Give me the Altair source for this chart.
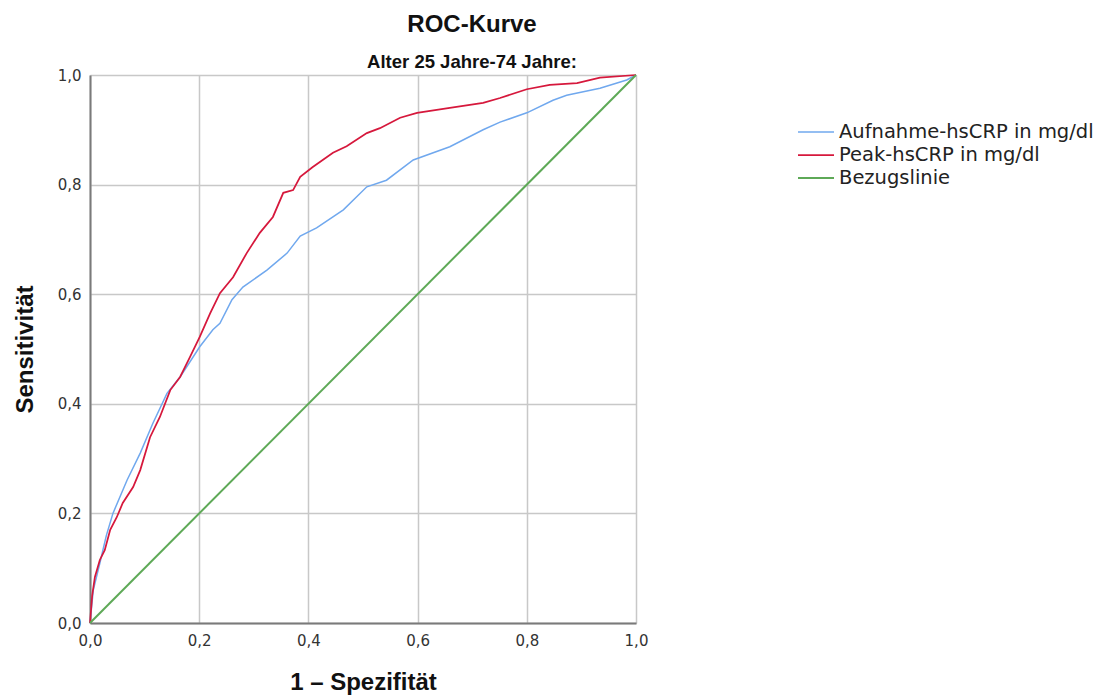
import altair as alt
import pandas as pd

series = ["Aufnahme-hsCRP in mg/dl", "Peak-hsCRP in mg/dl", "Bezugslinie"]
colors = ["#70a8ee", "#d6183c", "#5ea957"]
widths = [1.5, 2.0, 1.6]

fpr_aufnahme = [0.0, 0.006, 0.018, 0.030, 0.042, 0.068, 0.092, 0.115, 0.141, 0.165,
                0.201, 0.225, 0.238, 0.260, 0.280, 0.324, 0.361, 0.385, 0.415, 0.464,
                0.507, 0.543, 0.592, 0.659, 0.720, 0.751, 0.800, 0.848, 0.873, 0.934,
                0.983, 1.0]
tpr_aufnahme = [0.0, 0.060, 0.109, 0.160, 0.200, 0.261, 0.310, 0.364, 0.419, 0.449,
                0.504, 0.535, 0.547, 0.590, 0.613, 0.644, 0.675, 0.706, 0.721, 0.754,
                0.796, 0.808, 0.845, 0.869, 0.900, 0.914, 0.931, 0.954, 0.963, 0.976,
                0.991, 1.0]

fpr_peak = [0.0, 0.004, 0.009, 0.018, 0.027, 0.037, 0.049, 0.060, 0.079, 0.092,
            0.110, 0.128, 0.147, 0.165, 0.183, 0.201, 0.220, 0.238, 0.262, 0.287,
            0.311, 0.335, 0.354, 0.372, 0.385, 0.408, 0.445, 0.470, 0.507, 0.531,
            0.568, 0.599, 0.659, 0.720, 0.751, 0.800, 0.842, 0.892, 0.934, 1.0]
tpr_peak = [0.0, 0.050, 0.084, 0.115, 0.133, 0.170, 0.193, 0.219, 0.248, 0.279,
            0.339, 0.376, 0.425, 0.449, 0.485, 0.522, 0.565, 0.602, 0.631, 0.675,
            0.712, 0.741, 0.785, 0.790, 0.814, 0.832, 0.858, 0.870, 0.894, 0.903,
            0.922, 0.931, 0.940, 0.949, 0.958, 0.974, 0.982, 0.985, 0.995, 1.0]

fpr_ref = [0.0, 1.0]
tpr_ref = [0.0, 1.0]

tick_values = [0.0, 0.2, 0.4, 0.6, 0.8, 1.0]

rows = []
for name, xs, ys in zip(series, [fpr_aufnahme, fpr_peak, fpr_ref], [tpr_aufnahme, tpr_peak, tpr_ref]):
    for i, (xv, yv) in enumerate(zip(xs, ys)):
        rows.append({"serie": name, "fpr": xv, "tpr": yv, "ord": i})
df = pd.DataFrame(rows)

label_expr = "replace(format(datum.value, '.1f'), '.', ',')"

axis_common = dict(
    values=tick_values,
    labelExpr=label_expr,
    labelFont="DejaVu Sans",
    labelFontSize=15,
    labelColor="#333333",
    labelFlush=False,
    ticks=False,
    grid=True,
    gridColor="#c8c8c8",
    gridWidth=1.5,
    domainColor="#7a7a7a",
    domainWidth=2,
    titleFont="Liberation Sans",
    titleFontSize=24,
    titleFontWeight="bold",
    titleColor="#111111",
)

chart = alt.Chart(df).mark_line().encode(
    x=alt.X("fpr:Q", scale=alt.Scale(domain=[0, 1], nice=False),
            axis=alt.Axis(title="1 – Spezifität", labelPadding=10, titlePadding=22, **axis_common)),
    y=alt.Y("tpr:Q", scale=alt.Scale(domain=[0, 1], nice=False),
            axis=alt.Axis(title="Sensitivität", labelPadding=9, titlePadding=20, **axis_common)),
    color=alt.Color("serie:N", sort=series,
                    scale=alt.Scale(domain=series, range=colors),
                    legend=alt.Legend(title=None, orient="none", legendX=707, legendY=47,
                                      symbolType="M-1,0H3", symbolSize=324, symbolStrokeWidth=2,
                                      symbolFillColor="transparent",
                                      labelFont="DejaVu Sans", labelFontSize=19.5, labelColor="#222222",
                                      labelLimit=0, labelOffset=22, rowPadding=3, padding=0)),
    strokeWidth=alt.StrokeWidth("serie:N", sort=series,
                                scale=alt.Scale(domain=series, range=widths), legend=None),
    order=alt.Order("ord:Q"),
).properties(
    width=546,
    height=548,
    autosize=alt.AutoSizeParams(type="none"),
    padding={"left": 82, "top": 67, "right": 460, "bottom": 72},
    title=alt.TitleParams(
        text="ROC-Kurve",
        subtitle="Alter 25 Jahre-74 Jahre:",
        font="Liberation Sans",
        fontSize=24,
        fontWeight="bold",
        color="#111111",
        subtitleFont="Liberation Sans",
        subtitleFontSize=18.5,
        subtitleFontWeight="bold",
        subtitleColor="#111111",
        subtitlePadding=16,
        anchor="middle",
        dx=109,
        offset=-3,
    ),
).configure_view(stroke=None)

chart.save("out.html", embed_options={"renderer": "svg", "actions": False})
